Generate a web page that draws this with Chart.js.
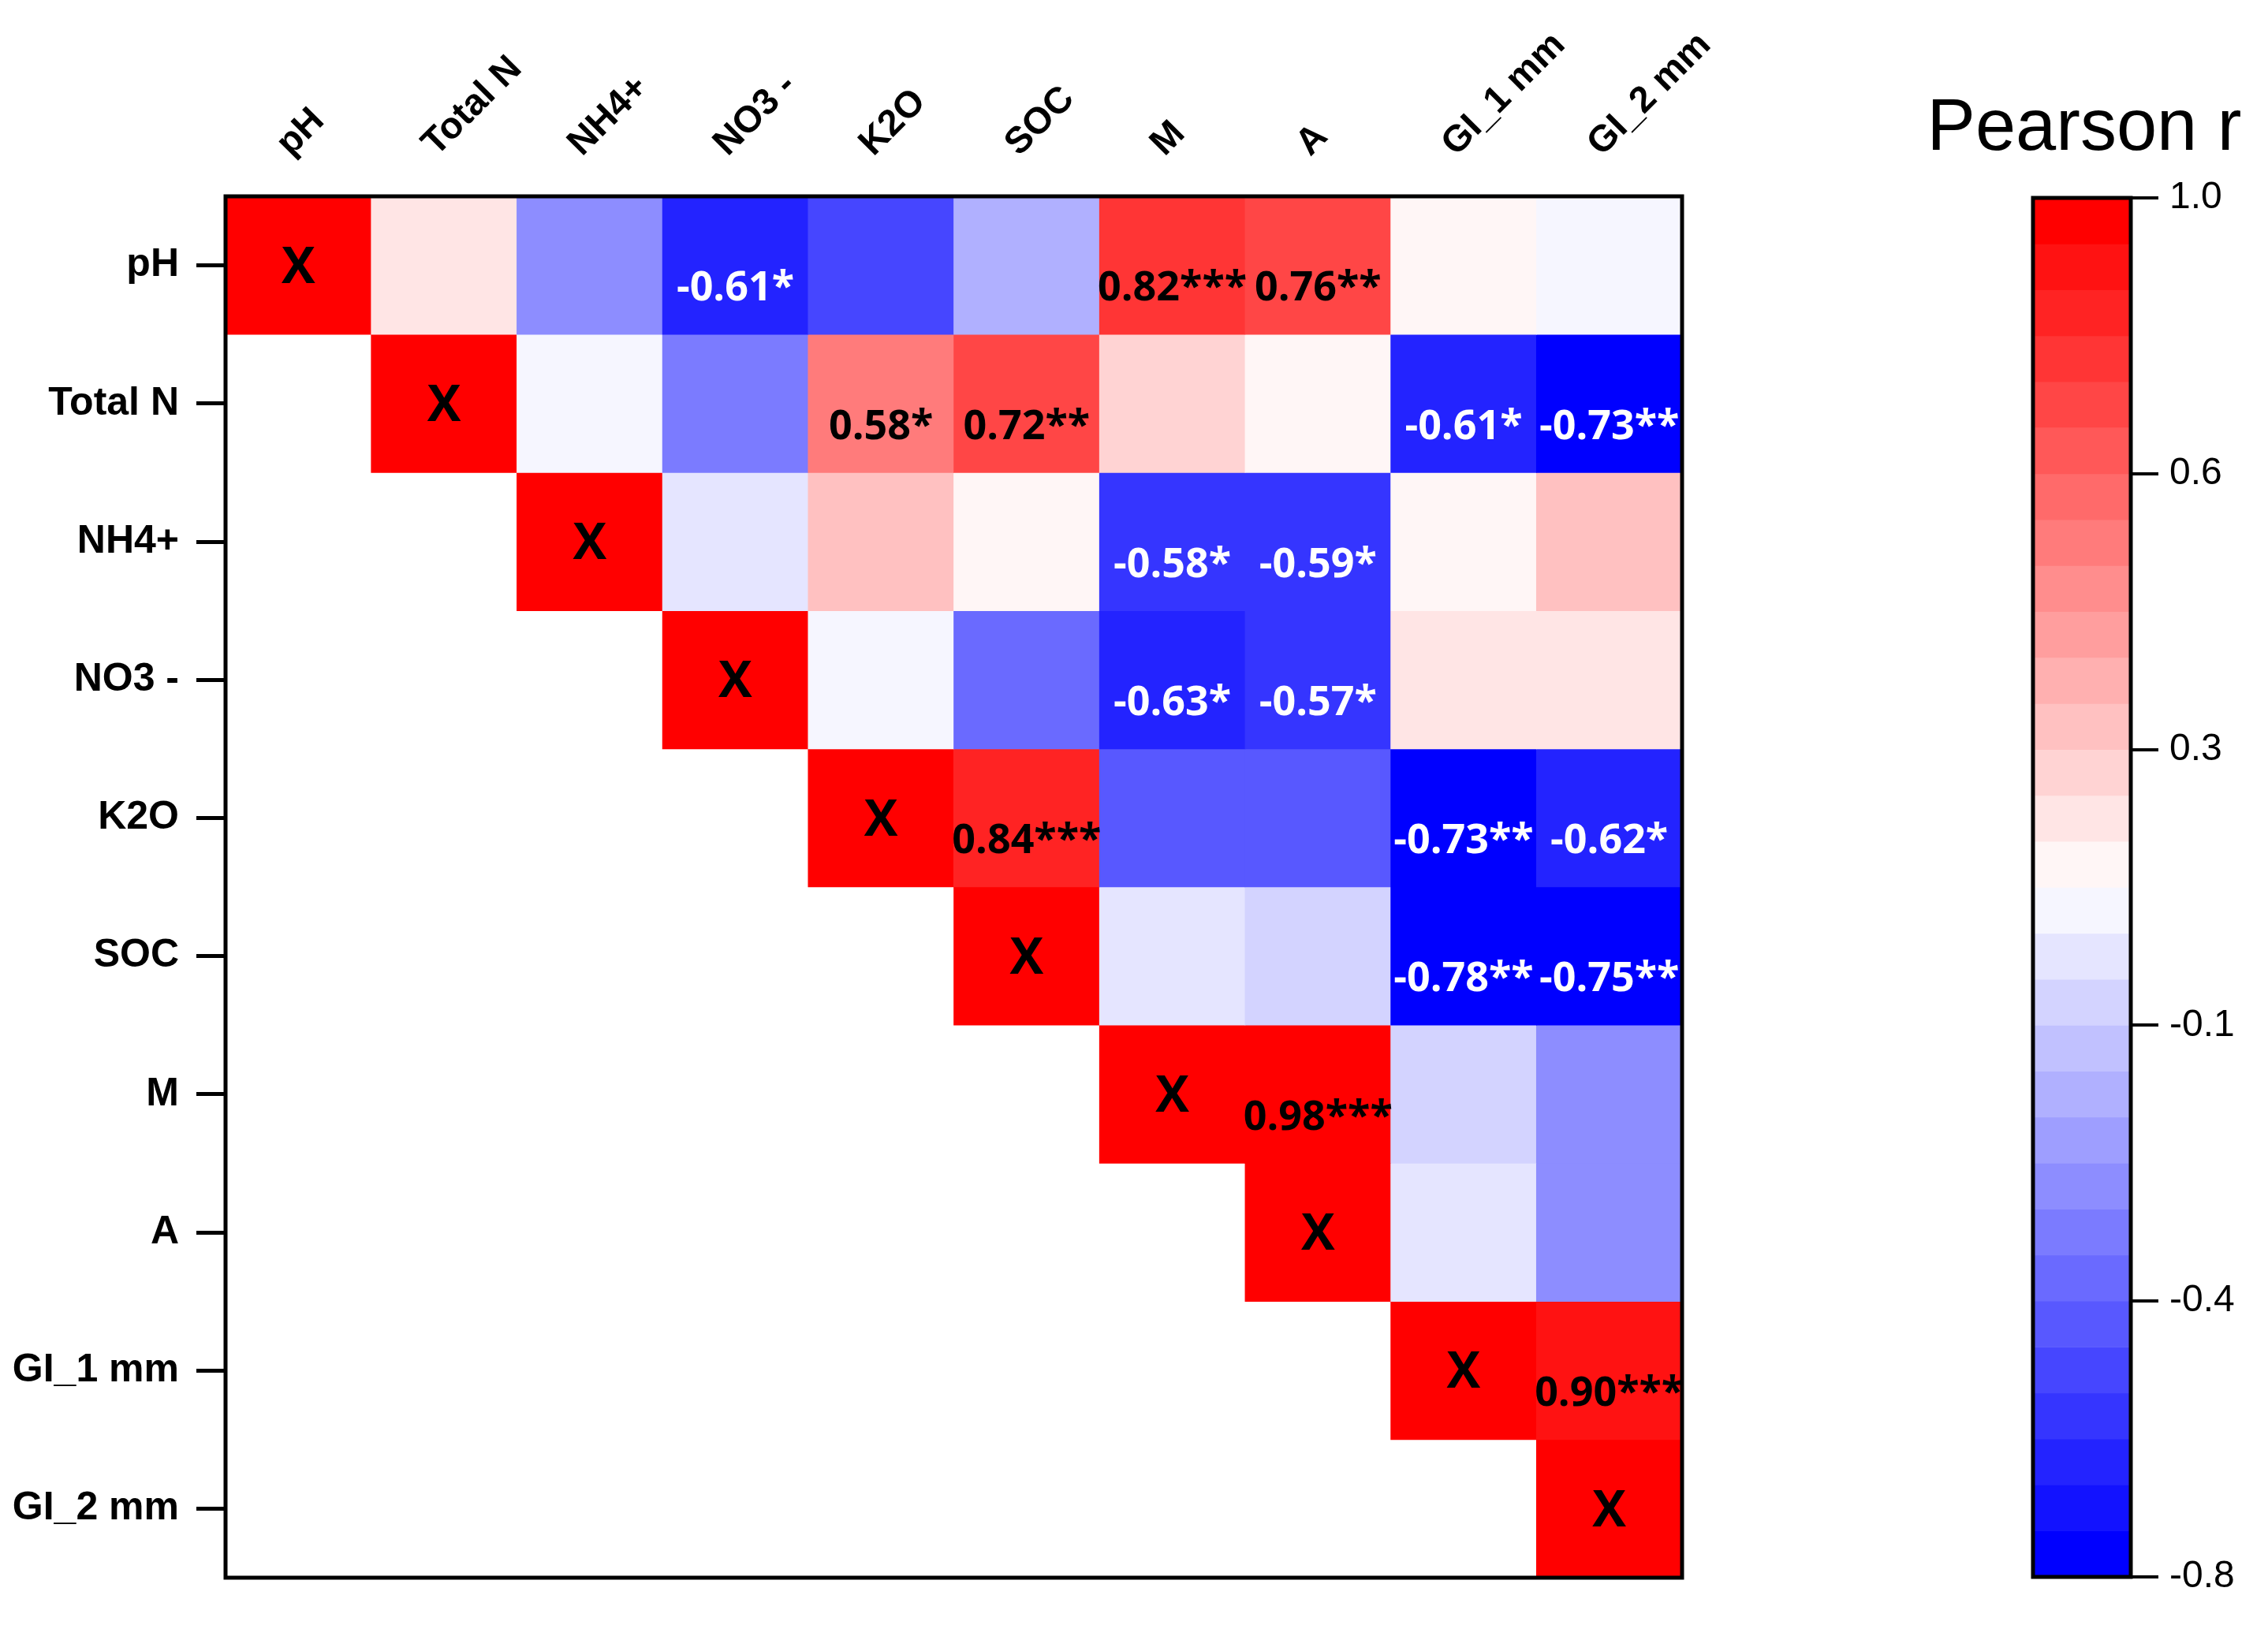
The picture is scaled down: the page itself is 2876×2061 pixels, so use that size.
<!DOCTYPE html>
<html>
<head>
<meta charset="utf-8">
<script src="https://cdn.jsdelivr.net/npm/chart.js@4.4.0/dist/chart.umd.min.js"></script>
<style>
  html, body { margin: 0; padding: 0; background: #fff; }
  body { width: 2876px; height: 2061px; position: relative; overflow: hidden; }
  #heatmap { position: absolute; left: 0; top: 0; }
  #colorbar { position: absolute; left: 2410px; top: 0; }
</style>
</head>
<body>
<canvas id="heatmap" width="2400" height="2061"></canvas>
<canvas id="colorbar" width="466" height="2061"></canvas>
<script>
const variables = ['pH', 'Total N', 'NH4+', 'NO3 -', 'K2O', 'SOC', 'M', 'A', 'GI_1 mm', 'GI_2 mm'];

// upper triangle of the correlation matrix, null below the diagonal
const rValues = [
  [1.00, 0.20, -0.28, -0.61, -0.52, -0.16, 0.82, 0.76, 0.14, 0.08],
  [null, 1.00, 0.08, -0.34, 0.58, 0.72, 0.26, 0.14, -0.61, -0.73],
  [null, null, 1.00, 0.02, 0.32, 0.14, -0.58, -0.59, 0.14, 0.32],
  [null, null, null, 1.00, 0.08, -0.40, -0.63, -0.57, 0.20, 0.20],
  [null, null, null, null, 1.00, 0.84, -0.46, -0.46, -0.73, -0.62],
  [null, null, null, null, null, 1.00, 0.02, -0.04, -0.78, -0.75],
  [null, null, null, null, null, null, 1.00, 0.98, -0.04, -0.28],
  [null, null, null, null, null, null, null, 1.00, 0.02, -0.28],
  [null, null, null, null, null, null, null, null, 1.00, 0.90],
  [null, null, null, null, null, null, null, null, null, 1.00]
];

const stars = [
  ['', '', '', '*', '', '', '***', '**', '', ''],
  ['', '', '', '', '*', '**', '', '', '*', '**'],
  ['', '', '', '', '', '', '*', '*', '', ''],
  ['', '', '', '', '', '', '*', '*', '', ''],
  ['', '', '', '', '', '***', '', '', '**', '*'],
  ['', '', '', '', '', '', '', '', '**', '**'],
  ['', '', '', '', '', '', '', '***', '', ''],
  ['', '', '', '', '', '', '', '', '', ''],
  ['', '', '', '', '', '', '', '', '', '***'],
  ['', '', '', '', '', '', '', '', '', '']
];

// colour scale: 30 steps from -0.8 (blue) to 1.0 (red)
const scaleMin = -0.8;
const scaleMax = 1.0;
const bandCount = 30;
const colorTickCount = 6;
const bandStep = (scaleMax - scaleMin) / bandCount;

function bandIndex(v) {
  const b = Math.floor((scaleMax - v) / bandStep + 0.2);
  return Math.min(bandCount - 1, Math.max(0, b));
}

function bandColor(b) {
  if (b < bandCount / 2) {
    const w = Math.round(b * 255 / 14.5);
    return `rgb(255,${w},${w})`;
  }
  const w = Math.round((bandCount - 1 - b) * 255 / 14.5);
  return `rgb(${w},${w},255)`;
}

const frame = {
  id: 'frame',
  afterDatasetsDraw(chart, args, opts) {
    const { ctx, chartArea: a } = chart;
    ctx.save();
    ctx.strokeStyle = '#000';
    ctx.lineWidth = opts.width || 5;
    ctx.strokeRect(a.left, a.top, a.right - a.left, a.bottom - a.top);
    ctx.restore();
  }
};

const cellText = {
  id: 'cellText',
  afterDraw(chart) {
    const ctx = chart.ctx;
    ctx.save();
    ctx.textAlign = 'center';
    ctx.textBaseline = 'middle';
    chart.data.datasets.forEach((ds, i) => {
      chart.getDatasetMeta(i).data.forEach((bar, j) => {
        const v = rValues[i][j];
        if (v === null) return;
        const cy = (bar.y + bar.base) / 2;
        if (i === j) {
          ctx.font = 'bold 64px "Open Sans"';
          ctx.fillStyle = '#000';
          ctx.fillText('X', bar.x, cy + 4);
        } else if (stars[i][j]) {
          ctx.font = 'bold 52px "Open Sans"';
          ctx.fillStyle = v < 0 ? '#fff' : '#000';
          ctx.fillText(v.toFixed(2) + stars[i][j], bar.x, cy + 30);
        }
      });
    });
    ctx.restore();
  }
};

// colour bar heading, centred over the bar
const barTitle = {
  id: 'barTitle',
  afterDraw(chart, args, opts) {
    const { ctx, chartArea: a } = chart;
    ctx.save();
    ctx.font = '92px "Liberation Sans", Arial';
    ctx.fillStyle = '#000';
    ctx.textAlign = 'center';
    ctx.textBaseline = 'alphabetic';
    ctx.fillText(opts.text, (a.left + a.right) / 2 + 3, opts.baseline);
    ctx.restore();
  }
};

const heatDatasets = rValues.map((row, i) => ({
  label: variables[i],
  data: row.map(v => v === null ? null : [i, i + 1]),
  backgroundColor: row.map(v => v === null ? 'rgba(0,0,0,0)' : bandColor(bandIndex(v))),
  borderWidth: 0,
  barPercentage: 1,
  categoryPercentage: 1,
  grouped: false
}));

new Chart(document.getElementById('heatmap'), {
  type: 'bar',
  data: { labels: variables, datasets: heatDatasets },
  options: {
    responsive: false,
    devicePixelRatio: 1,
    animation: false,
    layout: { padding: { left: 0, top: 0, right: 267, bottom: 60 } },
    plugins: {
      legend: { display: false },
      tooltip: { enabled: false },
      frame: { width: 5 }
    },
    scales: {
      x: {
        type: 'category',
        position: 'top',
        grid: { display: false },
        border: { display: false },
        ticks: {
          autoSkip: false,
          minRotation: 45,
          maxRotation: 45,
          padding: 31,
          labelOffset: 21,
          color: '#000',
          font: { family: '"Liberation Sans", Arial', weight: 'bold', size: 47 }
        },
        afterFit: s => { s.height = 249; }
      },
      y: {
        type: 'linear',
        position: 'left',
        min: 0,
        max: 10,
        reverse: true,
        afterBuildTicks: s => { s.ticks = variables.map((_, i) => ({ value: i + 0.5 })); },
        grid: { drawOnChartArea: false, drawTicks: true, tickLength: 37, lineWidth: 5, color: '#000' },
        border: { display: false },
        ticks: {
          autoSkip: false,
          padding: 22,
          color: '#000',
          font: { family: '"Liberation Sans", Arial', weight: 'bold', size: 50 },
          callback: (v, idx) => variables[idx]
        },
        afterFit: s => { s.width = 286; }
      }
    }
  },
  plugins: [frame, cellText]
});

const barDatasets = Array.from({ length: bandCount }, (_, b) => ({
  data: [[scaleMax - (b + 1) * bandStep, scaleMax - b * bandStep]],
  backgroundColor: bandColor(b),
  borderWidth: 0,
  barPercentage: 1,
  categoryPercentage: 1,
  grouped: false
}));

new Chart(document.getElementById('colorbar'), {
  type: 'bar',
  data: { labels: [''], datasets: barDatasets },
  options: {
    responsive: false,
    devicePixelRatio: 1,
    animation: false,
    layout: { padding: { left: 168, top: 251, right: 0, bottom: 61 } },
    plugins: {
      legend: { display: false },
      tooltip: { enabled: false },
      frame: { width: 5 },
      barTitle: { text: 'Pearson r', baseline: 190 }
    },
    scales: {
      x: { display: false },
      y: {
        type: 'linear',
        position: 'right',
        min: scaleMin,
        max: scaleMax,
        afterBuildTicks: s => {
          s.ticks = Array.from({ length: colorTickCount }, (_, k) =>
            ({ value: scaleMin + k * (scaleMax - scaleMin) / (colorTickCount - 1) }));
        },
        grid: { drawOnChartArea: false, drawTicks: true, tickLength: 35, lineWidth: 4, color: '#000' },
        border: { display: false },
        ticks: {
          padding: 14,
          color: '#000',
          font: { family: '"Liberation Sans", Arial', size: 48 },
          callback: v => v.toFixed(1)
        },
        afterFit: s => { s.width = 174; }
      }
    }
  },
  plugins: [frame, barTitle]
});
</script>
</body>
</html>
